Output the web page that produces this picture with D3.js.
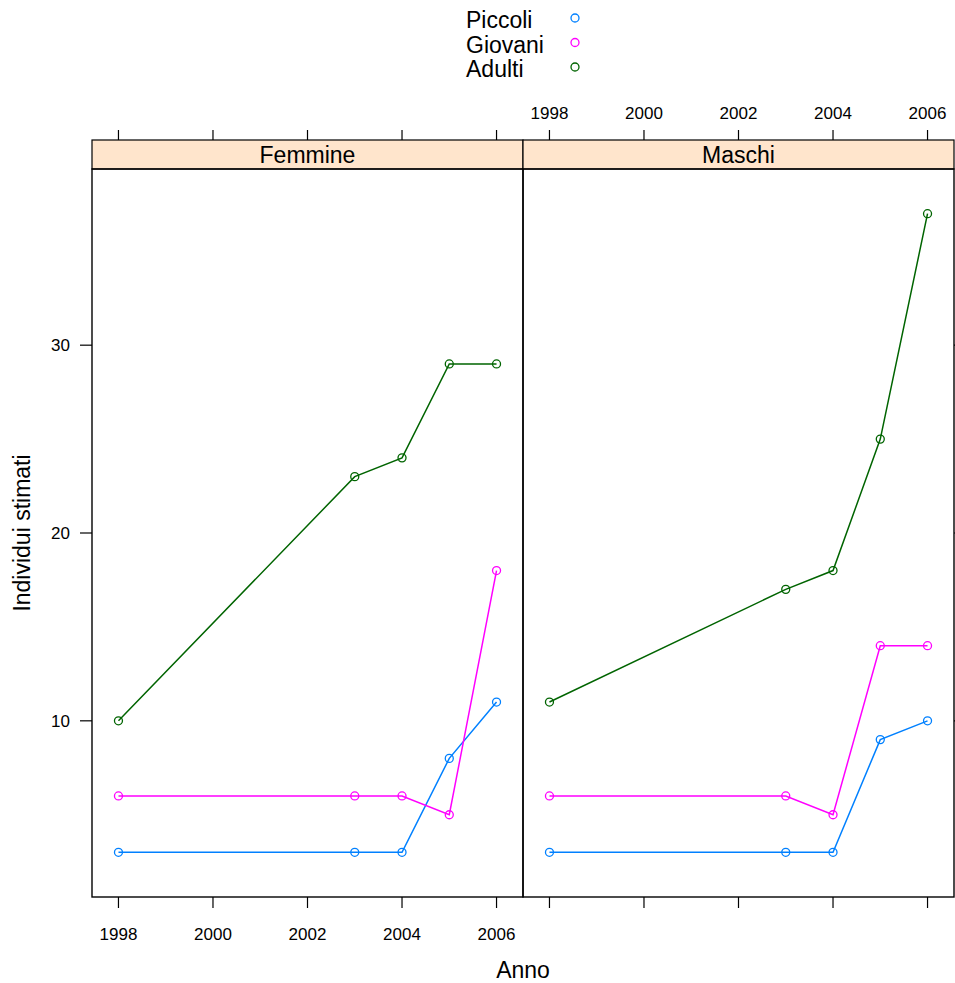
<!DOCTYPE html>
<html><head><meta charset="utf-8">
<script src="https://cdn.jsdelivr.net/npm/d3@7/dist/d3.min.js"></script>
<style>body{margin:0;background:#fff}svg{display:block;font-family:"Liberation Sans",Arial,sans-serif}</style>
</head><body><svg id="c" width="955" height="983"></svg>
<script>
const years = [1998, 2003, 2004, 2005, 2006];
const panels = ["Femmine", "Maschi"];
const seriesNames = ["Piccoli", "Giovani", "Adulti"];
const colors = ["#0080ff", "#ff00ff", "#006400"];
const femPiccoli = [3, 3, 3, 8, 11];
const femGiovani = [6, 6, 6, 5, 18];
const femAdulti = [10, 23, 24, 29, 29];
const masPiccoli = [3, 3, 3, 9, 10];
const masGiovani = [6, 6, 5, 14, 14];
const masAdulti = [11, 17, 18, 25, 37];
const xTicks = [1998, 2000, 2002, 2004, 2006];
const yTicks = [10, 20, 30];

const data = [
  [femPiccoli, femGiovani, femAdulti],
  [masPiccoli, masGiovani, masAdulti]
];

const svg = d3.select("#c");
const panelW = 431, pTop = 169, pBottom = 897, stripH = 29;
const lefts = [92, 523];
const allY = data.flat(2);
const yMin = d3.min(allY), yMax = d3.max(allY);
const yPad = (yMax - yMin) * 0.07;
const y = d3.scaleLinear().domain([yMin - yPad, yMax + yPad]).range([pBottom, pTop]);
const xPad = (2006 - 1998) * 0.07;

panels.forEach((p, i) => {
  const L = lefts[i];
  const x = d3.scaleLinear().domain([1998 - xPad, 2006 + xPad]).range([L, L + panelW]);
  const g = svg.append("g");
  g.append("rect").attr("x", L).attr("y", pTop - stripH).attr("width", panelW).attr("height", stripH)
    .attr("fill", "#ffe5cc").attr("stroke", "#000").attr("stroke-width", 1.2);
  g.append("text").attr("x", L + panelW / 2).attr("y", pTop - 6).attr("text-anchor", "middle")
    .attr("font-size", 23).text(p);
  xTicks.forEach(t => {
    g.append("line").attr("x1", x(t)).attr("x2", x(t)).attr("y1", pBottom).attr("y2", pBottom + 11).attr("stroke", "#000").attr("stroke-width", 1.2);
    g.append("line").attr("x1", x(t)).attr("x2", x(t)).attr("y1", pTop - stripH).attr("y2", pTop - stripH - 10).attr("stroke", "#000").attr("stroke-width", 1.2);
    if (i === 0) g.append("text").attr("x", x(t)).attr("y", 940).attr("text-anchor", "middle").attr("font-size", 17).text(t);
    if (i === 1) g.append("text").attr("x", x(t)).attr("y", 119).attr("text-anchor", "middle").attr("font-size", 17).text(t);
  });
  yTicks.forEach(t => {
    if (i === 0) {
      g.append("line").attr("x1", L).attr("x2", L - 12).attr("y1", y(t)).attr("y2", y(t)).attr("stroke", "#000").attr("stroke-width", 1.2);
      g.append("text").attr("x", L - 22).attr("y", y(t) + 6).attr("text-anchor", "end").attr("font-size", 17).text(t);
    } else {
      g.append("line").attr("x1", L + panelW).attr("x2", L + panelW + 12).attr("y1", y(t)).attr("y2", y(t)).attr("stroke", "#000").attr("stroke-width", 1.2);
    }
  });
  data[i].forEach((vals, s) => {
    const pts = years.map((yr, k) => [x(yr), y(vals[k])]);
    g.append("path").attr("d", d3.line()(pts)).attr("fill", "none").attr("stroke", colors[s]).attr("stroke-width", 1.5);
    g.selectAll(null).data(pts).enter().append("circle")
      .attr("cx", d => d[0]).attr("cy", d => d[1]).attr("r", 4)
      .attr("fill", "none").attr("stroke", colors[s]).attr("stroke-width", 1.3);
  });
  g.append("rect").attr("x", L).attr("y", pTop).attr("width", panelW).attr("height", pBottom - pTop)
    .attr("fill", "none").attr("stroke", "#000").attr("stroke-width", 1.4);
});

seriesNames.forEach((n, s) => {
  const yy = 20 + s * 24.5;
  svg.append("text").attr("x", 466).attr("y", yy + 8).attr("font-size", 23).text(n);
  svg.append("circle").attr("cx", 575).attr("cy", yy - 2).attr("r", 4)
    .attr("fill", "none").attr("stroke", colors[s]).attr("stroke-width", 1.3);
});

svg.append("text").attr("x", 523).attr("y", 978).attr("text-anchor", "middle").attr("font-size", 23).text("Anno");
svg.append("text").attr("transform", "translate(30,533) rotate(-90)").attr("text-anchor", "middle").attr("font-size", 23).text("Individui stimati");
</script></body></html>
